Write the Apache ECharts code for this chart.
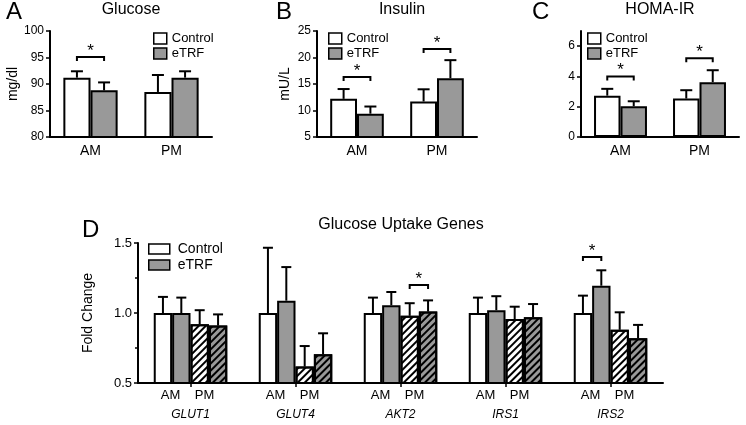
<!DOCTYPE html>
<html><head><meta charset="utf-8">
<script src="https://cdn.jsdelivr.net/npm/echarts@6/dist/echarts.min.js"></script>
<style>html,body{margin:0;padding:0;background:#fff}#c{width:746px;height:425px}</style>
</head><body><div id="c"></div>
<script>
// ---- data ----
const periods = ['AM', 'PM'];
const glucoseControl = [91.2, 88.5];
const glucoseControlSem = [1.2, 3.2];
const glucoseETRF = [88.8, 91.2];
const glucoseETRFSem = [1.5, 1.2];
const insulinControl = [12.2, 11.7];
const insulinControlSem = [1.85, 2.3];
const insulinETRF = [9.4, 16.1];
const insulinETRFSem = [1.35, 3.4];
const homaControl = [2.73, 2.54];
const homaControlSem = [0.45, 0.55];
const homaETRF = [2.03, 3.62];
const homaETRFSem = [0.33, 0.79];
const genes = ['GLUT1', 'GLUT4', 'AKT2', 'IRS1', 'IRS2'];
const geneControlAM = [1.0, 1.0, 1.0, 1.0, 1.0];
const geneControlAMSem = [0.115, 0.466, 0.11, 0.11, 0.124];
const geneETRFAM = [1.0, 1.088, 1.055, 1.02, 1.195];
const geneETRFAMSem = [0.11, 0.24, 0.095, 0.10, 0.11];
const geneControlPM = [0.92, 0.617, 0.98, 0.957, 0.88];
const geneControlPMSem = [0.10, 0.147, 0.09, 0.088, 0.125];
const geneETRFPM = [0.91, 0.705, 1.01, 0.969, 0.82];
const geneETRFPMSem = [0.08, 0.15, 0.08, 0.095, 0.095];
// significance: [categoryIndex, barFrom, barTo, bracketLevel]
const sigGlucose = [[0, 0, 1, 95.1]];
const sigInsulin = [[0, 0, 1, 16.3], [1, 0, 1, 21.6]];
const sigHoma = [[0, 0, 1, 4.0], [1, 0, 1, 5.2]];
const sigGenes = [[2, 2, 3, 1.2], [4, 0, 1, 1.4]];

const FONT = 'Liberation Sans, Arial, Helvetica, sans-serif';
const GRAY = '#999999';

function errData(groups) {
  const out = [];
  groups.forEach((g, k) => g.vals.forEach((v, i) => out.push([i, k, v, v + g.sem[i]])));
  return out;
}
function barX(api, cat, k, n, gap) {
  const c = api.coord([cat, 0])[0];
  const band = api.size([1, 0])[0];
  const gw = band * (1 - gap);
  const bw = gw / n;
  return c - gw / 2 + (k + 0.5) * bw;
}
function errRender(n, gap, capW) {
  return function (params, api) {
    const cat = api.value(0), k = api.value(1);
    const x = barX(api, cat, k, n, gap);
    const y0 = api.coord([cat, api.value(2)])[1];
    const y1 = api.coord([cat, api.value(3)])[1];
    return { type: 'group', children: [
      { type: 'line', shape: { x1: x, y1: y0, x2: x, y2: y1 }, style: { stroke: '#000', lineWidth: 2 } },
      { type: 'line', shape: { x1: x - capW / 2, y1: y1, x2: x + capW / 2, y2: y1 }, style: { stroke: '#000', lineWidth: 2 } }
    ] };
  };
}
function sigRender(n, gap, starSize) {
  return function (params, api) {
    const cat = api.value(0);
    const xa = barX(api, cat, api.value(1), n, gap);
    const xb = barX(api, cat, api.value(2), n, gap);
    const y = api.coord([cat, api.value(3)])[1];
    return { type: 'group', children: [
      { type: 'polyline', shape: { points: [[xa, y + 4], [xa, y], [xb, y], [xb, y + 4]] }, style: { stroke: '#000', lineWidth: 2, fill: null } },
      { type: 'text', style: { text: '*', x: (xa + xb) / 2, y: y - 6, align: 'center', verticalAlign: 'middle', textAlign: 'center', textVerticalAlign: 'middle', font: starSize + 'px ' + FONT, fill: '#000' } }
    ] };
  };
}

const ctrlStyle = { color: '#ffffff', borderColor: '#000', borderWidth: 2 };
const etrfStyle = { color: GRAY, borderColor: '#000', borderWidth: 2 };
const hatch = { symbol: 'rect', symbolSize: 1, dashArrayX: [1, 0], dashArrayY: [2, 2.2], rotation: -Math.PI / 4, color: '#000' };

const smallGap = 0.33, geneGap = 0.30;
function panelSeries(idx, ctrl, ctrlSem, etrf, etrfSem, sig) {
  return [
    { type: 'bar', name: 'Control', xAxisIndex: idx, yAxisIndex: idx, data: ctrl, barGap: '0%', barCategoryGap: (smallGap * 100) + '%', itemStyle: ctrlStyle, silent: true },
    { type: 'bar', name: 'eTRF', xAxisIndex: idx, yAxisIndex: idx, data: etrf, barGap: '0%', barCategoryGap: (smallGap * 100) + '%', itemStyle: etrfStyle, silent: true },
    { type: 'custom', xAxisIndex: idx, yAxisIndex: idx, z: 5, silent: true, clip: false, encode: { x: 0, y: 3 },
      renderItem: errRender(2, smallGap, 12), data: errData([{ vals: ctrl, sem: ctrlSem }, { vals: etrf, sem: etrfSem }]) },
    { type: 'custom', xAxisIndex: idx, yAxisIndex: idx, z: 5, silent: true, clip: false, encode: { x: 0, y: 3 },
      renderItem: sigRender(2, smallGap, 17), data: sig }
  ];
}

const axisLineStyle = { show: true, lineStyle: { color: '#000', width: 2 } };
function xCat(idx) {
  return { type: 'category', gridIndex: idx, data: periods, axisLine: axisLineStyle, axisTick: { show: false },
    axisLabel: { color: '#000', fontSize: 14, fontFamily: FONT, margin: 7 }, splitLine: { show: false } };
}
function yVal(idx, min, max, interval, name, gap, extra) {
  return Object.assign({ type: 'value', gridIndex: idx, min: min, max: max, interval: interval,
    axisLine: axisLineStyle, axisTick: { show: true, length: 4, lineStyle: { color: '#000', width: 1.5 } },
    axisLabel: { color: '#000', fontSize: 12, fontFamily: FONT, margin: 6 }, splitLine: { show: false },
    name: name, nameLocation: 'middle', nameGap: gap, nameRotate: 90,
    nameTextStyle: { color: '#000', fontSize: 14, fontFamily: FONT } }, extra || {});
}

const titleStyle = (s) => ({ fontSize: s, fontWeight: 'normal', fontFamily: FONT, color: '#000' });
const legendBase = (left, top, w, h, fs) => ({
  left: left, top: top, orient: 'vertical', padding: 0, itemGap: 2, itemWidth: w, itemHeight: h, icon: 'rect',
  selectedMode: false, data: ['Control', 'eTRF'], itemStyle: { borderColor: '#000', borderWidth: 1.5 },
  textStyle: { fontSize: fs, fontFamily: FONT, color: '#000', lineHeight: 13 }
});

const option = {
  animation: false,
  backgroundColor: '#fff',
  title: [
    { text: 'A', left: 6, top: 0, padding: 0, textStyle: titleStyle(24) },
    { text: 'B', left: 276, top: 0, padding: 0, textStyle: titleStyle(24) },
    { text: 'C', left: 532, top: 0, padding: 0, textStyle: titleStyle(24) },
    { text: 'D', left: 82, top: 218, padding: 0, textStyle: titleStyle(24) },
    { text: 'Glucose', left: 131, textAlign: 'center', top: 2, padding: 0, textStyle: titleStyle(16) },
    { text: 'Insulin', left: 402, textAlign: 'center', top: 2, padding: 0, textStyle: titleStyle(16) },
    { text: 'HOMA-IR', left: 660, textAlign: 'center', top: 2, padding: 0, textStyle: titleStyle(16) },
    { text: 'Glucose Uptake Genes', left: 401, textAlign: 'center', top: 217, padding: 0, textStyle: titleStyle(16) }
  ],
  legend: [
    legendBase(153, 32, 13, 11, 13),
    legendBase(328, 32, 13, 11, 13),
    legendBase(587, 32, 13, 11, 13),
    Object.assign(legendBase(148, 242, 21, 10, 14), { textStyle: { fontSize: 14, fontFamily: FONT, color: '#000', lineHeight: 13, padding: [0, 0, 0, 3] } })
  ],
  grid: [
    { left: 50, top: 31, width: 162, height: 106, containLabel: false, outerBoundsMode: 'none' },
    { left: 317, top: 31, width: 160, height: 106, containLabel: false, outerBoundsMode: 'none' },
    { left: 581, top: 31, width: 158, height: 106, containLabel: false, outerBoundsMode: 'none' },
    { left: 138, top: 243, width: 525, height: 140, containLabel: false, outerBoundsMode: 'none' }
  ],
  xAxis: [
    xCat(0), xCat(1), xCat(2),
    { type: 'category', gridIndex: 3, data: genes, axisLine: axisLineStyle,
      axisTick: { show: true, alignWithLabel: true, length: 4, lineStyle: { color: '#000', width: 1.5 } },
      axisLabel: { interval: 0, margin: 2, color: '#000', fontFamily: FONT,
        formatter: (v) => '{p|' + periods[0] + '}{q|' + periods[1] + '}\n{g|' + v + '}',
        rich: {
          p: { width: 28, align: 'center', fontSize: 13, fontFamily: FONT, color: '#000', lineHeight: 20 },
          q: { width: 40, align: 'center', fontSize: 13, fontFamily: FONT, color: '#000', lineHeight: 20 },
          g: { fontStyle: 'italic', fontSize: 12, fontFamily: FONT, color: '#000', lineHeight: 20 }
        } },
      splitLine: { show: false } }
  ],
  yAxis: [
    yVal(0, 80, 100, 5, 'mg/dl', 27),
    yVal(1, 5, 25, 5, 'mU/L', 25),
    yVal(2, 0, 7, 2, '', 20, {
      axisLabel: { color: '#000', fontSize: 12, fontFamily: FONT, margin: 6, customValues: [0, 2, 4, 6] },
      axisTick: { show: true, length: 4, lineStyle: { color: '#000', width: 1.5 }, customValues: [0, 2, 4, 6] } }),
    yVal(3, 0.5, 1.5, 0.5, 'Fold Change', 43, {
      axisLabel: { color: '#000', fontSize: 13, fontFamily: FONT, margin: 6, formatter: (v) => v.toFixed(1) },
      minorTick: { show: true, splitNumber: 2, length: 3, lineStyle: { color: '#000', width: 1.5 } } })
  ],
  series: [].concat(
    panelSeries(0, glucoseControl, glucoseControlSem, glucoseETRF, glucoseETRFSem, sigGlucose),
    panelSeries(1, insulinControl, insulinControlSem, insulinETRF, insulinETRFSem, sigInsulin),
    panelSeries(2, homaControl, homaControlSem, homaETRF, homaETRFSem, sigHoma),
    [
      { type: 'bar', name: 'Control', xAxisIndex: 3, yAxisIndex: 3, data: geneControlAM, barGap: '0%', barCategoryGap: (geneGap * 100) + '%', itemStyle: ctrlStyle, silent: true },
      { type: 'bar', name: 'eTRF', xAxisIndex: 3, yAxisIndex: 3, data: geneETRFAM, barGap: '0%', barCategoryGap: (geneGap * 100) + '%', itemStyle: etrfStyle, silent: true },
      { type: 'bar', name: 'Control PM', xAxisIndex: 3, yAxisIndex: 3, data: geneControlPM, barGap: '0%', barCategoryGap: (geneGap * 100) + '%', itemStyle: Object.assign({ decal: hatch }, ctrlStyle), silent: true },
      { type: 'bar', name: 'eTRF PM', xAxisIndex: 3, yAxisIndex: 3, data: geneETRFPM, barGap: '0%', barCategoryGap: (geneGap * 100) + '%', itemStyle: Object.assign({ decal: hatch }, etrfStyle), silent: true },
      { type: 'custom', xAxisIndex: 3, yAxisIndex: 3, z: 5, silent: true, clip: false, encode: { x: 0, y: 3 },
        renderItem: errRender(4, geneGap, 10),
        data: errData([{ vals: geneControlAM, sem: geneControlAMSem }, { vals: geneETRFAM, sem: geneETRFAMSem },
                       { vals: geneControlPM, sem: geneControlPMSem }, { vals: geneETRFPM, sem: geneETRFPMSem }]) },
      { type: 'custom', xAxisIndex: 3, yAxisIndex: 3, z: 5, silent: true, clip: false, encode: { x: 0, y: 3 },
        renderItem: sigRender(4, geneGap, 17), data: sigGenes }
    ]
  )
};
const chart = echarts.init(document.getElementById('c'), null, { renderer: 'canvas' });
chart.setOption(option);
</script>
</body></html>
